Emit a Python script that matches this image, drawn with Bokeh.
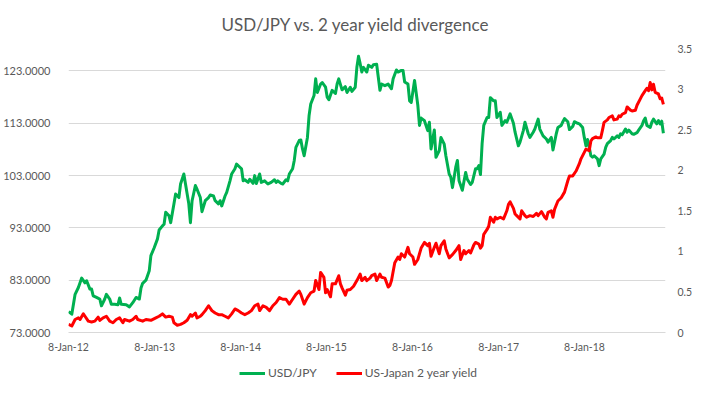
import pandas as pd
from bokeh.plotting import figure
from bokeh.layouts import column
from bokeh.models import (Range1d, LinearAxis, FixedTicker, CustomJSTickFormatter,
                          Legend, LegendItem, ColumnDataSource)
from bokeh.embed import file_html
from bokeh.resources import INLINE

title_text = "USD/JPY vs. 2 year yield  divergence"
start_date = "2012-01-08"
series_names = ["USD/JPY", "US-Japan 2 year yield"]

# USD/JPY (left axis): week number since 8-Jan-12, value
usdjpy_week = [0, 2, 4, 6, 8, 10, 11, 13, 14, 15, 17, 19, 20, 22, 23, 25, 26, 28, 30, 31, 32, 35, 37, 39,
               41, 43, 44, 45, 47, 49, 50, 52, 54, 55, 57, 58, 59, 61, 62, 64, 65, 67, 68, 70, 71, 73, 74,
               75, 77, 78, 80, 81, 83, 85, 86, 88, 89, 91, 92, 93, 95, 96, 98, 99, 101, 102, 104, 105, 106,
               107, 109, 110, 112, 113, 114, 116, 117, 119, 121, 123, 125, 126, 127, 129, 130, 132, 133,
               134, 136, 137, 138, 140, 141, 142, 143, 145, 146, 147, 149, 150, 151, 153, 154, 156, 157,
               158, 160, 162, 163, 164, 166, 168, 169, 171, 172, 174, 175, 176, 177, 178, 179, 181, 182,
               184, 185, 187, 188, 189, 190, 192, 194, 196, 197, 199, 200, 202, 203, 204, 206, 207, 208,
               210, 212, 213, 214, 216, 218, 219, 220, 222, 223, 225, 226, 228, 229, 231, 232, 233, 235,
               236, 237, 239, 241, 242, 244, 245, 247, 248, 249, 250, 251, 252, 254, 255, 256, 258, 259,
               260, 262, 263, 265, 266, 268, 270, 271, 273, 274, 276, 277, 279, 280, 282, 283, 285, 286,
               288, 290, 291, 293, 294, 296, 297, 299, 300, 301, 303, 304, 306, 307, 309, 310, 312, 313,
               314, 315, 316, 317, 318, 319, 321, 322, 323, 325, 326, 327, 329, 330, 331, 333, 334, 335,
               336, 338, 339, 340, 342, 343, 345, 346, 348, 349, 350, 351, 353, 354, 355, 357, 358, 359,
               360, 361]
usdjpy = [77.0, 76.5, 80.3, 81.6, 83.4, 82.5, 82.9, 81.3, 81.3, 80.0, 79.7, 79.4, 78.1, 79.4, 80.3, 79.4,
          78.4, 78.4, 78.3, 79.6, 78.4, 78.3, 77.9, 78.7, 79.7, 79.4, 81.5, 82.4, 83.0, 84.8, 87.7, 89.2,
          90.9, 92.6, 93.4, 93.7, 96.0, 95.3, 94.0, 97.6, 99.5, 98.8, 101.4, 103.3, 101.4, 97.6, 94.0,
          98.2, 101.1, 100.4, 98.8, 96.1, 98.2, 98.8, 99.3, 99.1, 98.2, 97.6, 98.2, 97.2, 99.1, 99.8,
          102.0, 103.3, 104.3, 105.2, 104.6, 104.3, 102.0, 102.2, 101.7, 102.3, 101.5, 103.0, 101.5,
          103.3, 101.7, 102.0, 101.4, 101.7, 102.2, 101.7, 102.0, 101.5, 101.4, 102.2, 102.0, 103.3,
          104.3, 105.9, 108.4, 109.7, 109.8, 108.1, 106.8, 110.3, 114.5, 116.7, 118.3, 121.5, 118.9,
          120.5, 120.8, 119.9, 118.0, 117.5, 119.3, 118.7, 120.5, 121.5, 119.4, 120.0, 118.9, 119.9,
          119.1, 119.9, 123.7, 125.8, 124.4, 122.8, 123.7, 122.8, 124.1, 123.7, 124.2, 124.3, 121.8,
          119.3, 120.5, 120.2, 120.5, 119.6, 121.5, 123.2, 122.8, 123.1, 123.1, 120.9, 120.5, 117.3,
          117.0, 121.2, 116.4, 112.6, 114.0, 113.5, 111.6, 113.2, 108.1, 111.7, 106.5, 107.8, 110.3,
          109.0, 106.8, 103.3, 102.7, 100.7, 104.6, 105.9, 102.0, 100.2, 103.6, 102.3, 101.3, 101.7,
          104.3, 104.3, 104.9, 103.2, 109.1, 112.6, 114.1, 114.1, 117.9, 117.3, 117.3, 114.1, 115.1,
          112.6, 113.5, 113.2, 114.8, 113.0, 111.3, 108.7, 109.4, 111.6, 113.2, 111.0, 110.3, 111.3,
          111.9, 113.8, 111.9, 110.6, 110.0, 109.4, 110.3, 107.9, 111.0, 112.2, 112.6, 113.3, 113.9,
          113.3, 111.8, 112.4, 113.3, 113.0, 112.9, 112.2, 110.3, 108.7, 109.9, 108.4, 106.8, 106.5,
          106.8, 106.2, 104.9, 106.2, 107.1, 108.4, 109.1, 109.7, 110.3, 110.0, 110.6, 110.3, 111.0,
          110.8, 111.9, 111.3, 111.7, 111.0, 110.9, 111.2, 111.7, 112.6, 113.5, 114.0, 112.6, 112.2,
          113.2, 113.8, 112.9, 113.5, 112.9, 113.4, 111.1]

# US-Japan 2 year yield spread (right axis): week number since 8-Jan-12, value
spread_week = [0, 2, 4, 6, 7, 9, 10, 12, 14, 16, 18, 19, 21, 23, 25, 27, 29, 31, 33, 34, 37, 39, 41, 42,
               45, 47, 50, 53, 55, 57, 59, 61, 63, 64, 66, 68, 70, 72, 74, 75, 77, 78, 80, 81, 83, 85,
               87, 89, 91, 93, 95, 97, 99, 101, 103, 105, 107, 109, 111, 113, 115, 116, 118, 120, 122,
               124, 126, 128, 130, 132, 134, 136, 138, 140, 141, 143, 145, 147, 149, 150, 152, 153, 155,
               156, 157, 159, 160, 162, 164, 165, 166, 168, 169, 171, 173, 175, 177, 178, 180, 181, 183,
               184, 186, 187, 189, 190, 192, 194, 195, 196, 198, 200, 201, 202, 204, 206, 207, 209, 210,
               212, 213, 214, 216, 218, 219, 220, 222, 223, 225, 226, 228, 229, 231, 233, 235, 237, 238,
               240, 241, 243, 244, 246, 247, 249, 250, 251, 252, 254, 255, 256, 258, 259, 260, 262, 264,
               266, 267, 268, 270, 271, 272, 274, 275, 277, 278, 280, 282, 284, 285, 287, 289, 290, 291,
               293, 294, 295, 297, 299, 301, 303, 304, 306, 308, 310, 311, 313, 314, 316, 317, 318, 320,
               321, 323, 324, 325, 327, 328, 330, 331, 333, 334, 335, 336, 338, 339, 341, 342, 344, 345,
               347, 348, 350, 351, 352, 353, 354, 355, 356, 358, 359, 360, 361]
spread = [0.10, 0.08, 0.16, 0.18, 0.16, 0.23, 0.20, 0.14, 0.13, 0.14, 0.19, 0.15, 0.18, 0.20, 0.14, 0.12,
          0.16, 0.18, 0.12, 0.16, 0.14, 0.16, 0.20, 0.16, 0.14, 0.16, 0.15, 0.18, 0.20, 0.23, 0.19, 0.20,
          0.19, 0.12, 0.09, 0.10, 0.12, 0.15, 0.22, 0.20, 0.24, 0.18, 0.20, 0.22, 0.27, 0.33, 0.27, 0.24,
          0.22, 0.22, 0.20, 0.18, 0.23, 0.29, 0.27, 0.24, 0.22, 0.24, 0.27, 0.33, 0.35, 0.27, 0.33, 0.31,
          0.27, 0.33, 0.37, 0.43, 0.41, 0.41, 0.35, 0.41, 0.47, 0.51, 0.47, 0.35, 0.43, 0.49, 0.51, 0.64,
          0.53, 0.74, 0.68, 0.49, 0.53, 0.44, 0.60, 0.60, 0.70, 0.60, 0.55, 0.46, 0.52, 0.53, 0.57, 0.64,
          0.72, 0.64, 0.68, 0.64, 0.67, 0.70, 0.72, 0.64, 0.72, 0.68, 0.67, 0.56, 0.58, 0.64, 0.86, 0.93,
          0.90, 0.97, 0.93, 1.05, 0.97, 0.93, 0.84, 0.90, 0.97, 1.04, 1.11, 1.07, 1.10, 0.94, 1.05, 1.10,
          0.97, 1.07, 1.13, 1.03, 0.92, 0.96, 1.01, 1.07, 0.90, 1.01, 0.97, 1.01, 0.98, 1.08, 1.11, 1.09,
          1.04, 1.07, 1.21, 1.27, 1.31, 1.42, 1.36, 1.42, 1.40, 1.42, 1.40, 1.50, 1.58, 1.61, 1.53, 1.46,
          1.44, 1.40, 1.50, 1.44, 1.42, 1.44, 1.43, 1.47, 1.44, 1.49, 1.42, 1.40, 1.48, 1.50, 1.42, 1.52,
          1.62, 1.66, 1.73, 1.87, 1.93, 1.93, 1.99, 2.08, 2.14, 2.22, 2.26, 2.24, 2.36, 2.39, 2.41, 2.40,
          2.40, 2.49, 2.59, 2.62, 2.65, 2.67, 2.62, 2.63, 2.67, 2.66, 2.69, 2.71, 2.78, 2.74, 2.73, 2.74,
          2.80, 2.88, 2.92, 2.98, 3.01, 2.98, 3.08, 2.99, 3.06, 2.96, 2.94, 2.88, 2.89, 2.81]

x_tick_dates = ["2012-01-08", "2013-01-08", "2014-01-08", "2015-01-08", "2016-01-08", "2017-01-08",
                "2018-01-08"]
x_tick_labels = ["8-Jan-12", "8-Jan-13", "8-Jan-14", "8-Jan-15", "8-Jan-16", "8-Jan-17", "8-Jan-18"]
left_ticks = [73, 83, 93, 103, 113, 123]
right_ticks = [0, 0.5, 1, 1.5, 2, 2.5, 3, 3.5]

FONT = "Lato"
GREY = "#595959"
GRID = "#d9d9d9"
GREEN = "#00B050"
RED = "#FF0000"

t0 = pd.Timestamp(start_date)
tick_days = [int((pd.Timestamp(d) - t0).days) for d in x_tick_dates]

src_g = ColumnDataSource(dict(x=[w * 7 for w in usdjpy_week], y=usdjpy))
src_r = ColumnDataSource(dict(x=[w * 7 for w in spread_week], y=spread))

p = figure(width=695, height=355, output_backend="svg", toolbar_location=None,
           x_range=Range1d(0, 2536), y_range=Range1d(73, 127.3),
           min_border_left=66, min_border_right=20, min_border_top=48, min_border_bottom=23)
p.extra_y_ranges = {"right": Range1d(0, 3.5)}
p.outline_line_color = None
p.background_fill_color = "white"
p.border_fill_color = "white"

# title
p.title.text = title_text
p.title.align = "left"
p.title.offset = 153
p.title.standoff = 24
p.title.vertical_align = "top"
p.title.text_font = FONT
p.title.text_font_size = "17px"
p.title.text_font_style = "normal"
p.title.text_color = GREY

# x axis
xa = p.xaxis[0]
xa.ticker = FixedTicker(ticks=tick_days)
xa.major_label_overrides = {d: lab for d, lab in zip(tick_days, x_tick_labels)}
xa.major_tick_line_color = None
xa.minor_tick_line_color = None
xa.axis_line_color = GRID
xa.axis_line_width = 1
xa.major_label_standoff = 2
xa.major_label_text_font = FONT
xa.major_label_text_font_size = "10.5px"
xa.major_label_text_color = GREY

# left axis
ya = p.yaxis[0]
ya.ticker = FixedTicker(ticks=left_ticks)
ya.formatter = CustomJSTickFormatter(code="return tick.toFixed(4);")
ya.axis_line_color = None
ya.major_tick_line_color = None
ya.minor_tick_line_color = None
ya.major_label_standoff = 12
ya.major_label_text_font = FONT
ya.major_label_text_font_size = "11px"
ya.major_label_text_color = GREY

# right axis
ra = LinearAxis(y_range_name="right", ticker=FixedTicker(ticks=right_ticks),
                formatter=CustomJSTickFormatter(code="return tick.toString();"))
ra.axis_line_color = None
ra.major_tick_line_color = None
ra.minor_tick_line_color = None
ra.major_label_standoff = 6
ra.major_label_text_font = FONT
ra.major_label_text_font_size = "10.5px"
ra.major_label_text_color = GREY
p.add_layout(ra, "right")

p.xgrid.visible = False
p.ygrid.ticker = FixedTicker(ticks=left_ticks)
p.ygrid.grid_line_color = GRID
p.ygrid.grid_line_width = 1

p.line("x", "y", source=src_g, color=GREEN, line_width=3, line_join="round")
p.line("x", "y", source=src_r, color=RED, line_width=3, line_join="round", y_range_name="right")

# legend strip below the chart (series drawn out of view; only the legend shows)
lg = figure(width=695, height=25, output_backend="svg", toolbar_location=None,
            x_range=Range1d(-2, -1), y_range=Range1d(-20, -19),
            x_axis_location=None, y_axis_location=None, min_border=0)
lg.outline_line_color = None
lg.xgrid.visible = False
lg.ygrid.visible = False
lg_g = lg.line("x", "y", source=src_g, color=GREEN, line_width=3)
lg_r = lg.line("x", "y", source=src_r, color=RED, line_width=3)
legend = Legend(items=[LegendItem(label=series_names[0], renderers=[lg_g]),
                       LegendItem(label=series_names[1], renderers=[lg_r])],
                orientation="horizontal", location=(171, 0), padding=0, margin=0, spacing=19,
                label_standoff=3, glyph_width=26, glyph_height=14, label_height=14,
                label_text_font=FONT, label_text_font_size="12px", label_text_color=GREY,
                border_line_color=None, background_fill_alpha=0)
lg.add_layout(legend, "center")

layout = column(p, lg, spacing=0)
open("out.html", "w").write(file_html(layout, INLINE))
